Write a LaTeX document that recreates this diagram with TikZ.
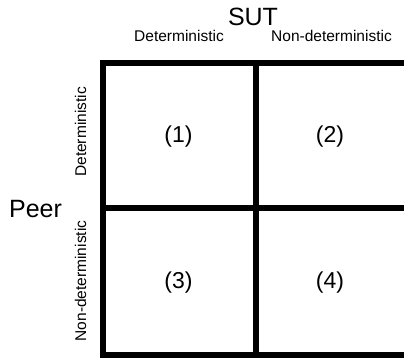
\documentclass[tikz,border=0pt]{standalone}
\usepackage{fontspec}
\setmainfont{Liberation Sans}
\begin{document}
\begin{tikzpicture}[x=1pt,y=-1pt,
  big/.style={font=\fontsize{25}{28}\selectfont, inner sep=0pt, anchor=base},
  small/.style={font=\fontsize{15.5}{18}\selectfont, inner sep=0pt, anchor=base},
  cell/.style={font=\fontsize{23}{26}\selectfont, inner sep=0pt},
  gridline/.style={line width=6pt}]
\useasboundingbox (0,0) rectangle (404,363);
\fill[white] (0,0) rectangle (404,363);
\begin{scope}
\clip (0,0) rectangle (404,363);
\coordinate (tl) at (103,63);
\coordinate (br) at (410,355);
\draw[gridline] (tl) rectangle (br);
\draw[gridline] (103,208) -- (410,208);
\draw[gridline] (255.5,63) -- (255.5,355);
\end{scope}
\node[big] (sut) at (253,26) {SUT};
\node[small] (cdet) at (179,42) {Deterministic};
\node[small] (cnon) at (331.5,42) {Non-deterministic};
\node[big] (peer) at (35.5,218) {Peer};
\node[small, rotate=90] (rdet) at (86,132) {Deterministic};
\node[small, rotate=90] (rnon) at (86,281) {Non-deterministic};
\node[cell] (c1) at (178.5,137) {(1)};
\node[cell] (c2) at (330,137) {(2)};
\node[cell] (c3) at (178.5,283) {(3)};
\node[cell] (c4) at (330,283) {(4)};
\end{tikzpicture}
\end{document}
